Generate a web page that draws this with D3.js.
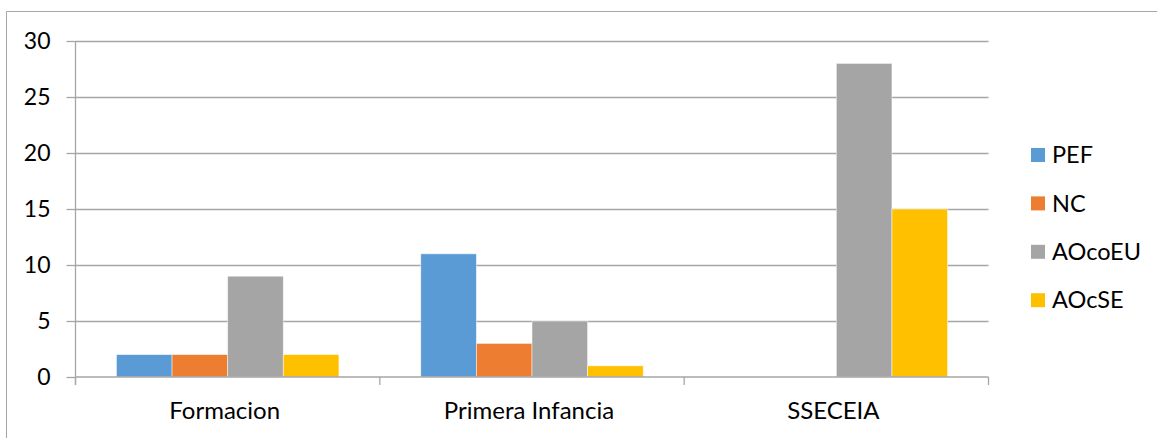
<!DOCTYPE html>
<html>
<head>
<meta charset="utf-8">
<script src="https://cdn.jsdelivr.net/npm/d3@7/dist/d3.min.js"></script>
<style>
  html, body { margin: 0; padding: 0; background: #fff; }
  svg { display: block; font-family: Lato, "Open Sans", sans-serif; }
</style>
</head>
<body>
<svg id="chart" width="1157" height="438"></svg>
<script>
// Categories, series and values
const categories = ["Formacion", "Primera Infancia", "SSECEIA"];
const seriesNames = ["PEF", "NC", "AOcoEU", "AOcSE"];
const PEF    = [2, 11, 0];
const NC     = [2, 3, 0];
const AOcoEU = [9, 5, 28];
const AOcSE  = [2, 1, 15];
const yTicks = [0, 5, 10, 15, 20, 25, 30];
const colors = ["#5b9bd5", "#ed7d31", "#a5a5a5", "#ffc000"];

const seriesValues = [PEF, NC, AOcoEU, AOcSE];
const rows = categories.map((c, i) => ({
  category: c,
  values: seriesNames.map((s, k) => ({ series: s, value: seriesValues[k][i], color: colors[k] }))
}));

const svg = d3.select("#chart");

// outer frame (only left and top edges fall inside the view)
svg.append("path")
  .attr("d", "M6.5,438 V11.5 H1157")
  .attr("fill", "none")
  .attr("stroke", "#a6a6a6")
  .attr("stroke-width", 1);

const plot = { left: 75.5, right: 988.5, top: 41, bottom: 377 };

const x0 = d3.scaleBand()
  .domain(categories)
  .range([plot.left, plot.right])
  .padding(0);

const gap = x0.bandwidth() * 0.1345;
const x1 = d3.scaleBand()
  .domain(seriesNames)
  .range([gap, x0.bandwidth() - gap])
  .padding(0);

const y = d3.scaleLinear()
  .domain([0, 30])
  .range([plot.bottom, plot.top]);

// horizontal gridlines
svg.append("g")
  .selectAll("line")
  .data(yTicks.filter(t => t > 0))
  .join("line")
  .attr("x1", plot.left)
  .attr("x2", plot.right)
  .attr("y1", d => Math.round(y(d)) + 0.5)
  .attr("y2", d => Math.round(y(d)) + 0.5)
  .attr("stroke", "#a6a6a6")
  .attr("stroke-width", 1.3);

// bars
const groups = svg.append("g")
  .selectAll("g")
  .data(rows)
  .join("g")
  .attr("transform", d => `translate(${x0(d.category)},0)`);

groups.selectAll("rect")
  .data(d => d.values.filter(v => v.value > 0))
  .join("rect")
  .attr("x", d => x1(d.series))
  .attr("width", x1.bandwidth())
  .attr("y", d => y(d.value))
  .attr("height", d => y(0) - y(d.value))
  .attr("fill", d => d.color)
  .attr("stroke", "#ffffff")
  .attr("stroke-opacity", 0.6)
  .attr("stroke-width", 0.8);

// y axis
const yAxis = d3.axisLeft(y)
  .tickValues(yTicks)
  .tickSize(9)
  .tickPadding(16)
  .tickFormat(d3.format("d"));

const gy = svg.append("g")
  .attr("transform", `translate(${plot.left},0)`)
  .call(yAxis);
gy.select(".domain").attr("stroke", "#a6a6a6").attr("stroke-width", 1.3)
  .attr("d", `M0,${plot.top}V${plot.bottom + 8}`);
gy.selectAll(".tick line").attr("stroke", "#a6a6a6").attr("stroke-width", 1.3);
gy.selectAll(".tick text")
  .attr("fill", "#000")
  .attr("font-size", 23)
  .attr("font-family", "Lato, sans-serif");

// x axis
const boundaries = [plot.left, ...categories.slice(1).map(c => x0(c)), plot.right];
const gx = svg.append("g");
gx.append("line")
  .attr("x1", plot.left).attr("x2", plot.right)
  .attr("y1", plot.bottom).attr("y2", plot.bottom)
  .attr("stroke", "#a6a6a6").attr("stroke-width", 1.5);
gx.selectAll("line.tick")
  .data(boundaries)
  .join("line")
  .attr("class", "tick")
  .attr("x1", d => d).attr("x2", d => d)
  .attr("y1", plot.bottom).attr("y2", plot.bottom + 8)
  .attr("stroke", "#a6a6a6").attr("stroke-width", 1.3);
gx.selectAll("text")
  .data(categories)
  .join("text")
  .attr("x", d => x0(d) + x0.bandwidth() / 2 - 3)
  .attr("y", 418.5)
  .attr("text-anchor", "middle")
  .attr("font-size", 24)
  .attr("fill", "#000")
  .text(d => d);

// legend
const legend = svg.append("g")
  .attr("transform", "translate(1031,155)");
const items = legend.selectAll("g")
  .data(seriesNames)
  .join("g")
  .attr("transform", (d, i) => `translate(0,${i * 48.4})`);
items.append("rect")
  .attr("x", 0).attr("y", -7)
  .attr("width", 14).attr("height", 14)
  .attr("fill", (d, i) => colors[i]);
items.append("text")
  .attr("x", 21)
  .attr("y", 0)
  .attr("dy", "0.35em")
  .attr("font-size", 23.5)
  .attr("fill", "#000")
  .text(d => d);
</script>
</body>
</html>
